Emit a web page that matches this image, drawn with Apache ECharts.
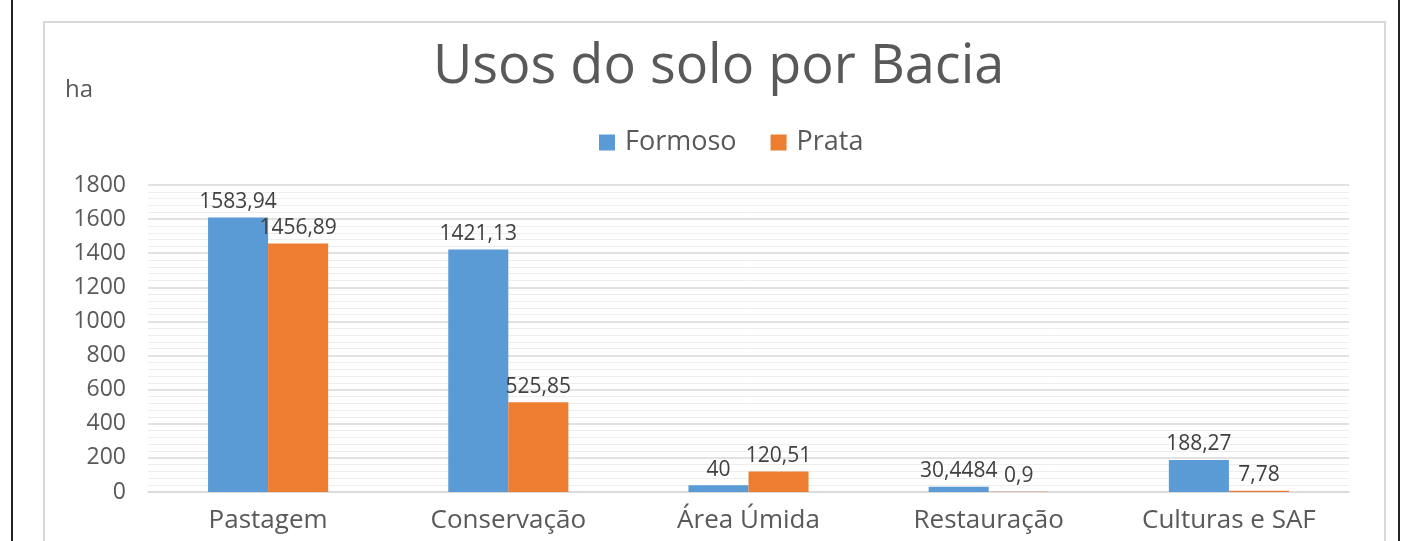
<!DOCTYPE html>
<html>
<head>
<meta charset="utf-8">
<script src="https://cdn.jsdelivr.net/npm/echarts@6/dist/echarts.min.js"></script>
<style>
html,body{margin:0;padding:0;background:#fff;}
#chart{width:1403px;height:541px;}
</style>
</head>
<body>
<div id="chart"></div>
<script>
const categories = ['Pastagem', 'Conservação', 'Área Úmida', 'Restauração', 'Culturas e SAF'];
const formoso = [1610, 1421.13, 40, 30.4484, 188.27];
const formosoLabels = ['1583,94', '1421,13', '40', '30,4484', '188,27'];
const prata = [1456.89, 525.85, 120.51, 0.9, 7.78];
const prataLabels = ['1456,89', '525,85', '120,51', '0,9', '7,78'];
const yTicks = [0, 200, 400, 600, 800, 1000, 1200, 1400, 1600, 1800];

const FONT = '"Open Sans", "Noto Sans", sans-serif';
const chart = echarts.init(document.getElementById('chart'), null, {renderer: 'canvas'});

chart.setOption({
  backgroundColor: '#ffffff',
  animation: false,
  title: {
    text: 'Usos do solo por Bacia',
    left: 428,
    top: 36,
    textStyle: {fontFamily: FONT, fontSize: 54, fontWeight: 'normal', color: '#595959'}
  },
  legend: {
    data: ['Formoso', 'Prata'],
    top: 124,
    left: 594,
    itemWidth: 16,
    itemHeight: 16,
    itemGap: 34,
    icon: 'rect',
    textStyle: {fontFamily: FONT, fontSize: 27, color: '#595959', padding: [0, 0, 0, 5]}
  },
  graphic: [
    {type: 'rect', shape: {x: 12, y: -5, width: 1387, height: 560}, style: {fill: 'none', stroke: '#222', lineWidth: 2}, silent: true},
    {type: 'rect', shape: {x: 44, y: 22, width: 1341, height: 540}, style: {fill: 'none', stroke: '#d9d9d9', lineWidth: 2}, silent: true},
    {type: 'text', left: 65, top: 78, style: {text: 'ha', fontFamily: FONT, fontSize: 24, fill: '#595959'}, silent: true}
  ],
  grid: {left: 148, right: 54, top: 185, bottom: 49, containLabel: false},
  xAxis: {
    type: 'category',
    data: categories,
    axisTick: {show: false},
    axisLine: {show: true, lineStyle: {color: '#d9d9d9', width: 1.5}},
    axisLabel: {fontFamily: FONT, fontSize: 26, color: '#595959', margin: 16}
  },
  yAxis: {
    type: 'value',
    min: yTicks[0],
    max: yTicks[yTicks.length - 1],
    interval: 200,
    axisLine: {show: false},
    axisTick: {show: false},
    axisLabel: {fontFamily: FONT, fontSize: 23, color: '#595959', margin: 22, formatter: v => String(v)},
    splitLine: {show: true, lineStyle: {color: '#d9d9d9', width: 1.5}},
    minorTick: {show: false, splitNumber: 5},
    minorSplitLine: {show: true, lineStyle: {color: '#eeeeee', width: 1}}
  },
  series: [
    {
      name: 'Formoso',
      type: 'bar',
      data: formoso,
      barGap: '0%',
      barCategoryGap: '50%',
      itemStyle: {color: '#5B9BD5'},
      label: {
        show: true, position: 'top', distance: 5,
        fontFamily: FONT, fontSize: 21, color: '#404040',
        formatter: p => formosoLabels[p.dataIndex]
      }
    },
    {
      name: 'Prata',
      type: 'bar',
      data: prata,
      itemStyle: {color: '#ED7D31'},
      label: {
        show: true, position: 'top', distance: 5,
        fontFamily: FONT, fontSize: 21, color: '#404040',
        formatter: p => prataLabels[p.dataIndex]
      }
    }
  ]
});
</script>
</body>
</html>
